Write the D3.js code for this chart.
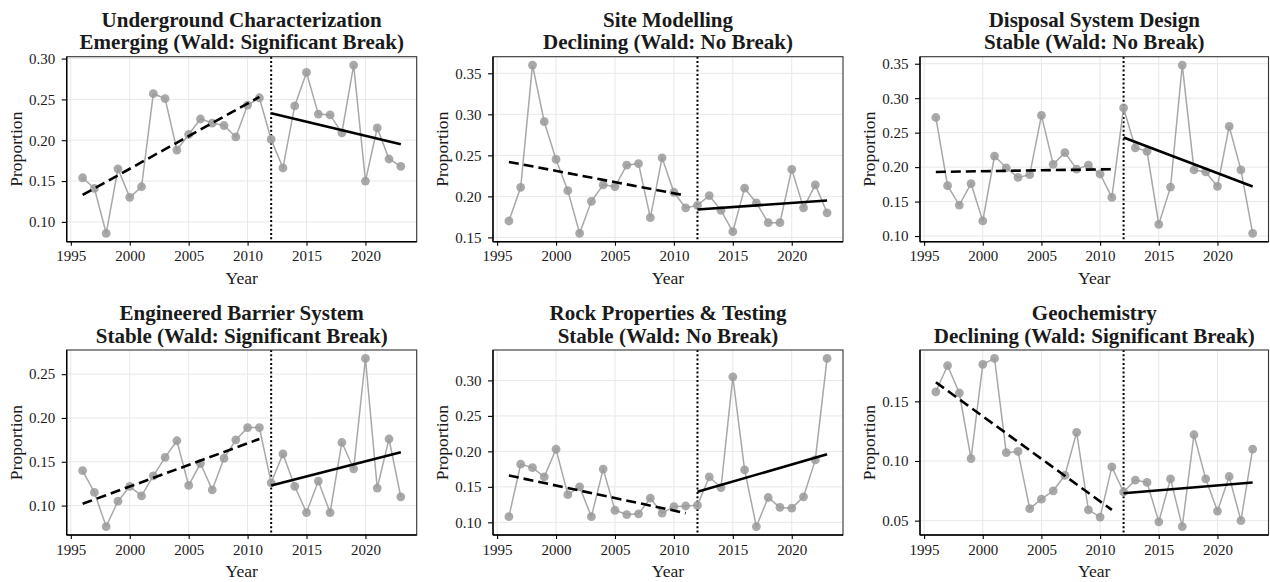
<!DOCTYPE html>
<html>
<head>
<meta charset="utf-8">
<script src="https://cdn.jsdelivr.net/npm/d3@7"></script>
<style>
  body { margin: 0; background: #fff; }
  svg { display: block; }
  text { font-family: "Liberation Serif", "Times New Roman", serif; fill: #1a1a1a; }
</style>
</head>
<body>
<svg id="chart" width="1270" height="582"></svg>
<script>
// Publication years shared by every topic
const years = [1996, 1997, 1998, 1999, 2000, 2001, 2002, 2003, 2004, 2005, 2006, 2007, 2008, 2009,
               2010, 2011, 2012, 2013, 2014, 2015, 2016, 2017, 2018, 2019, 2020, 2021, 2022, 2023];

// Yearly share of publications per topic
const undergroundCharacterization = [0.154, 0.141, 0.086, 0.165, 0.130, 0.143, 0.257, 0.251, 0.188, 0.207,
  0.226, 0.221, 0.218, 0.204, 0.243, 0.252, 0.201, 0.166, 0.242, 0.283, 0.232, 0.231, 0.209, 0.292,
  0.150, 0.215, 0.177, 0.168];
const siteModelling = [0.170, 0.211, 0.360, 0.291, 0.245, 0.207, 0.155, 0.194, 0.214, 0.212,
  0.238, 0.240, 0.174, 0.247, 0.205, 0.186, 0.189, 0.201, 0.183, 0.157, 0.210, 0.192, 0.168, 0.168,
  0.233, 0.186, 0.214, 0.180];
const disposalSystemDesign = [0.272, 0.173, 0.145, 0.176, 0.122, 0.216, 0.199, 0.185, 0.189, 0.275,
  0.204, 0.221, 0.197, 0.203, 0.190, 0.156, 0.286, 0.228, 0.223, 0.117, 0.171, 0.348, 0.196, 0.193,
  0.172, 0.259, 0.196, 0.104];
const engineeredBarrierSystem = [0.140, 0.115, 0.076, 0.105, 0.122, 0.111, 0.134, 0.155, 0.174, 0.123,
  0.148, 0.118, 0.154, 0.175, 0.189, 0.189, 0.126, 0.159, 0.122, 0.092, 0.128, 0.092, 0.172, 0.142,
  0.268, 0.120, 0.176, 0.110];
const rockPropertiesTesting = [0.108, 0.182, 0.177, 0.164, 0.203, 0.139, 0.150, 0.108, 0.175, 0.117,
  0.111, 0.112, 0.134, 0.113, 0.122, 0.123, 0.124, 0.164, 0.149, 0.305, 0.174, 0.094, 0.135, 0.121,
  0.120, 0.136, 0.188, 0.331];
const geochemistry = [0.158, 0.180, 0.157, 0.102, 0.181, 0.186, 0.107, 0.108, 0.060, 0.068,
  0.075, 0.088, 0.124, 0.059, 0.053, 0.095, 0.074, 0.084, 0.082, 0.049, 0.085, 0.045, 0.122, 0.085,
  0.058, 0.087, 0.050, 0.110];

// Segmented fits: [value at first year, value at last year] of each segment
const breakYear = 2012;
const preSpan = [1996, 2011];
const postSpan = [2012, 2023];
const preTrends = [[0.133, 0.253], [0.242, 0.201], [0.193, 0.197], [0.102, 0.176], [0.166, 0.113], [0.166, 0.059]];
const postTrends = [[0.233, 0.195], [0.184, 0.195], [0.243, 0.172], [0.123, 0.161], [0.143, 0.196], [0.073, 0.082]];

// Panel headings
const topicNames = ["Underground Characterization", "Site Modelling", "Disposal System Design",
  "Engineered Barrier System", "Rock Properties & Testing", "Geochemistry"];
const trendLabels = ["Emerging (Wald: Significant Break)", "Declining (Wald: No Break)", "Stable (Wald: No Break)",
  "Stable (Wald: Significant Break)", "Stable (Wald: No Break)", "Declining (Wald: Significant Break)"];

// Axis ticks
const xTicks = [1995, 2000, 2005, 2010, 2015, 2020];
const yTicks = [
  [0.10, 0.15, 0.20, 0.25, 0.30],
  [0.15, 0.20, 0.25, 0.30, 0.35],
  [0.10, 0.15, 0.20, 0.25, 0.30, 0.35],
  [0.10, 0.15, 0.20, 0.25],
  [0.10, 0.15, 0.20, 0.25, 0.30],
  [0.05, 0.10, 0.15]
];

const seriesList = [undergroundCharacterization, siteModelling, disposalSystemDesign,
  engineeredBarrierSystem, rockPropertiesTesting, geochemistry];

// Panel grid geometry
const colLeft = [66.7, 493, 920];
const colRight = [416.7, 843, 1268.5];
const rowTop = [56.7, 350];
const rowBottom = [241.7, 535];

const svg = d3.select("#chart");

function expand(lo, hi, f) {
  const pad = (hi - lo) * f;
  return [lo - pad, hi + pad];
}

seriesList.forEach((values, i) => {
  const col = i % 3, row = Math.floor(i / 3);
  const x0 = colLeft[col], x1 = colRight[col];
  const y0 = rowTop[row], y1 = rowBottom[row];

  const pts = years.map((yr, k) => ({ year: yr, value: values[k] }));
  const allVals = values.concat(preTrends[i], postTrends[i]);
  const x = d3.scaleLinear().domain(expand(1996, 2023, 0.05)).range([x0, x1]);
  const y = d3.scaleLinear().domain(expand(d3.min(allVals), d3.max(allVals), 0.05)).range([y1, y0]);

  const g = svg.append("g");

  // background grid
  g.append("g").selectAll("line").data(xTicks).join("line")
    .attr("x1", d => x(d)).attr("x2", d => x(d)).attr("y1", y0).attr("y2", y1)
    .attr("stroke", "#e8e8e8").attr("stroke-width", 1);
  g.append("g").selectAll("line").data(yTicks[i]).join("line")
    .attr("x1", x0).attr("x2", x1).attr("y1", d => y(d)).attr("y2", d => y(d))
    .attr("stroke", "#e8e8e8").attr("stroke-width", 1);

  // break marker
  g.append("line")
    .attr("x1", x(breakYear)).attr("x2", x(breakYear)).attr("y1", y0).attr("y2", y1)
    .attr("stroke", "#000").attr("stroke-width", 2).attr("stroke-dasharray", "2,2.3");

  // observed series
  g.append("path").datum(pts)
    .attr("fill", "none").attr("stroke", "#a8a8a8").attr("stroke-width", 1.5)
    .attr("d", d3.line().x(d => x(d.year)).y(d => y(d.value)));
  g.append("g").selectAll("circle").data(pts).join("circle")
    .attr("cx", d => x(d.year)).attr("cy", d => y(d.value)).attr("r", 4.4)
    .attr("fill", "#9a9a9a").attr("fill-opacity", 0.85);

  // segmented trend lines
  const seg = d3.line().x(d => x(d[0])).y(d => y(d[1]));
  g.append("path").datum([[preSpan[0], preTrends[i][0]], [preSpan[1], preTrends[i][1]]])
    .attr("fill", "none").attr("stroke", "#000").attr("stroke-width", 2.6)
    .attr("stroke-dasharray", "10,5").attr("d", seg);
  g.append("path").datum([[postSpan[0], postTrends[i][0]], [postSpan[1], postTrends[i][1]]])
    .attr("fill", "none").attr("stroke", "#000").attr("stroke-width", 2.6).attr("d", seg);

  // panel frame
  g.append("rect").attr("x", x0).attr("y", y0).attr("width", x1 - x0).attr("height", y1 - y0)
    .attr("fill", "none").attr("stroke", "#333").attr("stroke-width", 1.1);

  // axes
  const xAxis = d3.axisBottom(x).tickValues(xTicks).tickFormat(d3.format("d")).tickSize(4).tickPadding(5);
  const yAxis = d3.axisLeft(y).tickValues(yTicks[i]).tickFormat(d3.format(".2f")).tickSize(5).tickPadding(6.5);
  const gx = g.append("g").attr("transform", `translate(0,${y1})`).call(xAxis);
  const gy = g.append("g").attr("transform", `translate(${x0},0)`).call(yAxis);
  [gx, gy].forEach(a => {
    a.select(".domain").attr("stroke", "#000").attr("stroke-width", 1.4);
    a.selectAll(".tick line").attr("stroke", "#000").attr("stroke-width", 1.1);
    a.selectAll(".tick text").attr("font-size", 15).attr("fill", "#222");
  });
  gx.select(".domain").attr("d", `M${x0},0H${x1}`);
  gy.select(".domain").attr("d", `M0,${y0}V${y1}`);

  // axis titles
  g.append("text").attr("x", (x0 + x1) / 2).attr("y", y1 + 42)
    .attr("text-anchor", "middle").attr("font-size", 17.6).text("Year");
  g.append("text")
    .attr("transform", `translate(${x0 - 45},${(y0 + y1) / 2}) rotate(-90)`)
    .attr("text-anchor", "middle").attr("font-size", 17.6).text("Proportion");

  // headings
  g.append("text").attr("x", (x0 + x1) / 2).attr("y", y0 - 30)
    .attr("text-anchor", "middle").attr("font-size", 21).attr("font-weight", "bold").text(topicNames[i]);
  g.append("text").attr("x", (x0 + x1) / 2).attr("y", y0 - 7.5)
    .attr("text-anchor", "middle").attr("font-size", 21).attr("font-weight", "bold").text(trendLabels[i]);
});
</script>
</body>
</html>
